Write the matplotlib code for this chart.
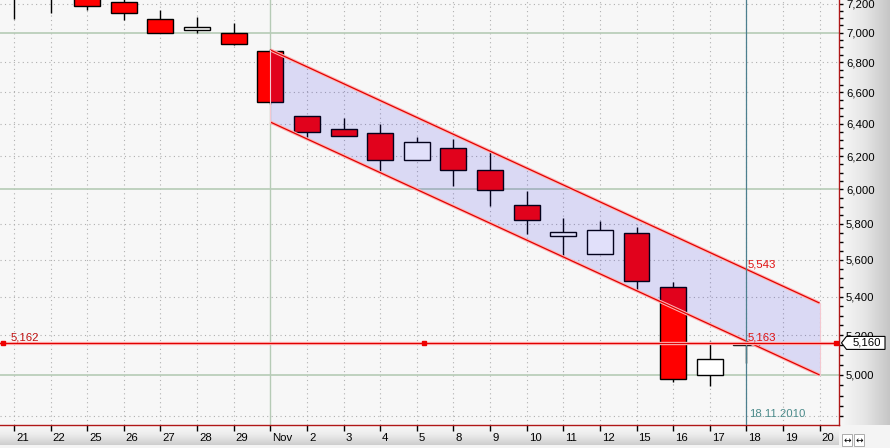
import numpy as np
import matplotlib
matplotlib.use('Agg')
import matplotlib.pyplot as plt
from matplotlib import transforms
from matplotlib.patches import Polygon
from matplotlib.colors import LinearSegmentedColormap
from matplotlib.ticker import FixedLocator, FuncFormatter, NullFormatter

# ---------------- data ----------------
dates = ['21', '22', '25', '26', '27', '28', '29', 'Nov', '2', '3', '4', '5', '8', '9',
         '10', '11', '12', '15', '16', '17', '18', '19', '20']
opens  = [7300, 7330, 7260, 7212, 7091, 7015, 6995, 6875, 6449, 6366, 6341, 6174, 6247,
          6114, 5907, 5730, 5629, 5747, 5449, 4998, 5148]
highs  = [7350, 7380, 7290, 7245, 7158, 7111, 7069, 6890, 6449, 6438, 6399, 6315, 6305,
          6227, 5991, 5832, 5818, 5784, 5479, 5169, 5172]
lows   = [7095, 7139, 7158, 7087, 7000, 6995, 6915, 6523, 6305, 6324, 6111, 6174, 6022,
          5905, 5743, 5610, 5629, 5430, 4964, 4947, 5057]
closes = [7260, 7290, 7184, 7134, 7000, 7036, 6920, 6541, 6347, 6324, 6174, 6284, 6114,
          5995, 5820, 5752, 5765, 5486, 4978, 5077, 5160]

channel_x = [7, 22]
channel_upper = [6882, 5366]
channel_lower = [6411, 5000]
channel_labels = ['5,543', '5,163']
channel_label_vals = [5546, 5162]

price_line = 5162
price_line_label = '5,162'
last_tag = 5160
last_tag_label = '5,160'

cross_idx = 20
cross_label = '18.11.2010'

y_major = list(range(5000, 7201, 200))
y_minor = list(range(4800, 7201, 50))
y_strong = [5000, 6000, 7000]
y_dotted = [4800, 5200, 5400, 5600, 5800, 6200, 6400, 6600, 6800, 7200]

# ---------------- figure ----------------
W, H = 890, 448
fig = plt.figure(figsize=(W / 100, H / 100), dpi=100, facecolor='#f4f4f4')
FONT = 'Liberation Sans'
FS = 8.2

# side panels with gradients
ax_r = fig.add_axes([839 / W, 23 / H, 51 / W, 425 / H], zorder=0)
cm_r = LinearSegmentedColormap.from_list('r', ['#f8f8f8', '#e6e6e6', '#c6c6c6'])
ax_r.imshow(np.linspace(0, 1, 100)[None, :], aspect='auto', cmap=cm_r, extent=[0, 1, 0, 1])
ax_r.set_axis_off()

ax_b = fig.add_axes([0, 3 / H, 839 / W, 20 / H], zorder=0)
cm_b = LinearSegmentedColormap.from_list('b', ['#fbfbfb', '#ececec', '#cdcdcd'])
ax_b.imshow(np.linspace(0, 1, 100)[:, None], aspect='auto', cmap=cm_b, extent=[0, 1, 0, 1])
ax_b.set_axis_off()

ax = fig.add_axes([0, 23 / H, 839 / W, 425 / H], zorder=2)
ax.set_facecolor('#f7f7f7')
ax.set_yscale('log')
ax.set_xlim(-0.382, 22.53)
ax.set_ylim(4760, 7228)

# grid
for i, d in enumerate(dates):
    if d == 'Nov':
        ax.axvline(i, color='#b6cbb6', lw=1.0, zorder=1)
    else:
        ax.axvline(i, color='#b0b0b0', lw=0.8, ls=(0, (1, 3)), zorder=1)
for v in y_dotted:
    ax.axhline(v, color='#b0b0b0', lw=0.8, ls=(0, (1, 3)), zorder=1)
for v in y_strong:
    ax.axhline(v, color='#b6cbb6', lw=1.2, zorder=1)

# candles
n = len(opens)
xs = np.arange(n)
ax.vlines(xs, lows, highs, color='black', lw=1.0, zorder=2)
bottoms = [min(o, c) for o, c in zip(opens, closes)]
heights = [max(abs(c - o), 3) for o, c in zip(opens, closes)]
colors = ['#ff0000' if c < o else 'white' for o, c in zip(opens, closes)]
ax.bar(xs, heights, bottom=bottoms, width=0.71, color=colors, edgecolor='black',
       lw=1.0, zorder=3)

# channel
ax.fill_between(channel_x, channel_lower, channel_upper, color='#1a10e0', alpha=0.13,
                lw=0, zorder=4)
for yv in (channel_upper, channel_lower):
    ax.plot(channel_x, yv, color='#ffb4b4', lw=2.4, zorder=5, solid_capstyle='butt')
    ax.plot(channel_x, yv, color='#e00000', lw=0.9, zorder=5, solid_capstyle='butt')
ax.plot([channel_x[0]] * 2, [channel_lower[0], channel_upper[0]], color='#f4c8d0', lw=0.8, zorder=5)
ax.plot([channel_x[1]] * 2, [channel_lower[1], channel_upper[1]], color='#f4c8d0', lw=0.8, zorder=5)

off_txt = transforms.ScaledTranslation(1 / 100, 2 / 100, fig.dpi_scale_trans)
for lab, val in zip(channel_labels, channel_label_vals):
    ax.text(cross_idx, val, lab, color='#e01010', fontsize=FS, family=FONT,
            ha='left', va='baseline', transform=ax.transData + off_txt, zorder=7)

# crosshair
ax.axvline(cross_idx, color='#4c7f8e', lw=0.9, zorder=6)
ax.text(cross_idx, 0.025, cross_label, color='#4a8a8a', fontsize=FS, family=FONT,
        ha='left', va='center',
        transform=transforms.blended_transform_factory(ax.transData, ax.transAxes)
        + transforms.ScaledTranslation(3 / 100, 0, fig.dpi_scale_trans), zorder=7)

# horizontal price line
ax.axhline(price_line, color='#ffb8b8', lw=2.4, zorder=6)
ax.axhline(price_line, color='#e00000', lw=0.9, zorder=6)
bt = transforms.blended_transform_factory(ax.transAxes, ax.transData)
ax.plot([0.003, 0.505, 0.996], [price_line] * 3, ls='none', marker='s', ms=3.2,
        color='#ee0000', transform=bt, zorder=7, clip_on=False)
ax.text(0.012, price_line, price_line_label, color='#c01010', fontsize=FS, family=FONT,
        ha='left', va='baseline', transform=bt + off_txt, zorder=7)

# spines
for s in ('top', 'left'):
    ax.spines[s].set_visible(False)
for s in ('bottom', 'right'):
    ax.spines[s].set_color('#b01818')
    ax.spines[s].set_linewidth(1.0)

# y ticks (right)
ax.yaxis.tick_right()
ax.yaxis.set_major_locator(FixedLocator(y_major))
ax.yaxis.set_minor_locator(FixedLocator([v for v in y_minor if v not in y_major]))
ax.yaxis.set_major_formatter(FuncFormatter(lambda v, p: f'{v:,.0f}'))
ax.yaxis.set_minor_formatter(NullFormatter())
ax.tick_params(axis='y', which='both', direction='out', length=3, width=1, pad=2,
               labelsize=FS, colors='black')
for t in ax.get_yticklabels():
    t.set_family(FONT)

# x ticks
ax.set_xticks(range(len(dates)))
ax.set_xticklabels(dates, family=FONT, fontsize=FS, ha='left')
ax.tick_params(axis='x', direction='out', length=4, width=1, pad=1.5)
xoff = transforms.ScaledTranslation(2 / 100, 0, fig.dpi_scale_trans)
for t in ax.get_xticklabels():
    t.set_transform(t.get_transform() + xoff)

# price tag on right axis
fig.canvas.draw()
ypx = ax.transData.transform((0, last_tag))[1]
verts = [(841.5, ypx), (846.5, ypx + 6.5), (885, ypx + 6.5), (885, ypx - 6.5), (846.5, ypx - 6.5)]
fig.add_artist(Polygon(verts, closed=True, facecolor='white', edgecolor='black', lw=0.8,
                       transform=transforms.IdentityTransform(), zorder=10))
fig.text(853, ypx, last_tag_label, fontsize=FS, family=FONT, va='center', ha='left',
         transform=transforms.IdentityTransform(), zorder=11)

# corner buttons
for bx in (847, 859):
    fig.text(bx, 8, '↔', fontsize=6.5, ha='center', va='center', family='DejaVu Sans',
             transform=transforms.IdentityTransform(), zorder=11,
             bbox=dict(boxstyle='square,pad=0.15', fc='white', ec='#a0a0a0', lw=0.6))

fig.savefig('out.png', dpi=100)
